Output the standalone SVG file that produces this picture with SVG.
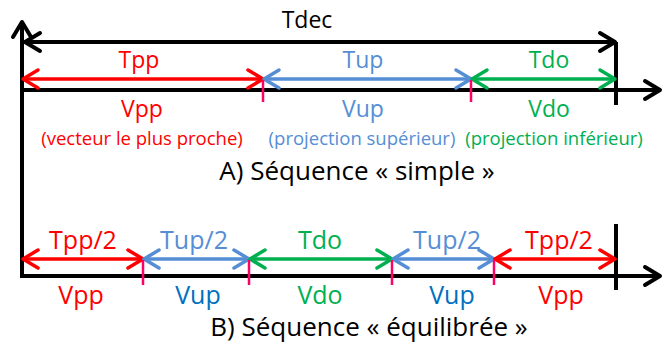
<svg xmlns="http://www.w3.org/2000/svg" width="664" height="344" viewBox="0 0 664 344">
<style>
text{font-family:"Open Sans","Liberation Sans",sans-serif;text-anchor:middle}
.big{font-size:23px}
.bigB{font-size:25px}
.sm{font-size:18.5px}
.ttl{font-size:26px;fill:#000}
.k{stroke:#000;stroke-width:4;fill:none}
.r{stroke:#FF0000;stroke-width:3.5;fill:none}
.b{stroke:#558ED5;stroke-width:3.5;fill:none}
.g{stroke:#00B050;stroke-width:3.5;fill:none}
.tick{stroke:#FF0066;stroke-width:2.5}
</style>
<defs>
<marker id="mk" viewBox="-20 -12 24 24" refX="0" refY="0" markerWidth="24" markerHeight="24" markerUnits="userSpaceOnUse" orient="auto-start-reverse" overflow="visible"><path d="M-15,-9 L0,0 L-15,9" fill="none" stroke="#000" stroke-width="4" stroke-linecap="round" stroke-linejoin="round"/></marker>
<marker id="mr" viewBox="-20 -12 24 24" refX="0" refY="0" markerWidth="24" markerHeight="24" markerUnits="userSpaceOnUse" orient="auto-start-reverse" overflow="visible"><path d="M-15,-9 L0,0 L-15,9" fill="none" stroke="#FF0000" stroke-width="3.5" stroke-linecap="round" stroke-linejoin="round"/></marker>
<marker id="mb" viewBox="-20 -12 24 24" refX="0" refY="0" markerWidth="24" markerHeight="24" markerUnits="userSpaceOnUse" orient="auto-start-reverse" overflow="visible"><path d="M-15,-9 L0,0 L-15,9" fill="none" stroke="#558ED5" stroke-width="3.5" stroke-linecap="round" stroke-linejoin="round"/></marker>
<marker id="mg" viewBox="-20 -12 24 24" refX="0" refY="0" markerWidth="24" markerHeight="24" markerUnits="userSpaceOnUse" orient="auto-start-reverse" overflow="visible"><path d="M-15,-9 L0,0 L-15,9" fill="none" stroke="#00B050" stroke-width="3.5" stroke-linecap="round" stroke-linejoin="round"/></marker>
</defs>
<g id="axes">
<line class="k" x1="22" y1="278" x2="22" y2="22" marker-end="url(#mk)"/>
<line class="k" x1="22" y1="90" x2="660" y2="90" marker-end="url(#mk)"/>
<line class="k" x1="22" y1="276" x2="660" y2="276" marker-end="url(#mk)"/>
<line class="k" x1="616" y1="42" x2="616" y2="105"/>
<line class="k" x1="616" y1="224" x2="616" y2="290"/>
</g>
<g id="connectors">
<line class="k" x1="25" y1="42" x2="615" y2="42" marker-start="url(#mk)" marker-end="url(#mk)"/>
<line class="r" x1="23" y1="79" x2="263" y2="79" marker-start="url(#mr)" marker-end="url(#mr)"/>
<line class="b" x1="264" y1="79" x2="471" y2="79" marker-start="url(#mb)" marker-end="url(#mb)"/>
<line class="g" x1="472" y1="79" x2="615" y2="79" marker-start="url(#mg)" marker-end="url(#mg)"/>
<line class="r" x1="23" y1="259" x2="143" y2="259" marker-start="url(#mr)" marker-end="url(#mr)"/>
<line class="b" x1="144" y1="259" x2="249" y2="259" marker-start="url(#mb)" marker-end="url(#mb)"/>
<line class="g" x1="250" y1="259" x2="392" y2="259" marker-start="url(#mg)" marker-end="url(#mg)"/>
<line class="b" x1="393" y1="259" x2="494" y2="259" marker-start="url(#mb)" marker-end="url(#mb)"/>
<line class="r" x1="495" y1="259" x2="615" y2="259" marker-start="url(#mr)" marker-end="url(#mr)"/>
<line class="tick" x1="263" y1="80" x2="263" y2="102"/>
<line class="tick" x1="471" y1="80" x2="471" y2="102"/>
<line class="tick" x1="143" y1="260" x2="143" y2="285"/>
<line class="tick" x1="249" y1="260" x2="249" y2="285"/>
<line class="tick" x1="392" y1="260" x2="392" y2="285"/>
<line class="tick" x1="494" y1="260" x2="494" y2="285"/>
</g>
<g id="labelsA">
<text class="big" x="307" y="28" fill="#000">Tdec</text>
<text class="big" x="139" y="68" fill="#FF0000">Tpp</text>
<text class="big" x="363" y="68" fill="#558ED5">Tup</text>
<text class="big" x="549" y="68" fill="#00B050">Tdo</text>
<text class="big" x="142" y="117" fill="#FF0000">Vpp</text>
<text class="big" x="363" y="117" fill="#558ED5">Vup</text>
<text class="big" x="549" y="117" fill="#00B050">Vdo</text>
<text class="sm" x="142" y="145" fill="#FF0000">(vecteur le plus proche)</text>
<text class="sm" x="362" y="145" fill="#558ED5">(projection supérieur)</text>
<text class="sm" x="554" y="145" fill="#00B050">(projection inférieur)</text>
<text class="ttl" x="357" y="180">A) Séquence « simple »</text>
</g>
<g id="labelsB">
<text class="bigB" x="83" y="249" fill="#FF0000">Tpp/2</text>
<text class="bigB" x="194" y="249" fill="#558ED5">Tup/2</text>
<text class="bigB" x="320" y="249" fill="#00B050">Tdo</text>
<text class="bigB" x="447" y="249" fill="#558ED5">Tup/2</text>
<text class="bigB" x="559" y="249" fill="#FF0000">Tpp/2</text>
<text class="bigB" x="81" y="304" fill="#FF0000">Vpp</text>
<text class="bigB" x="198" y="304" fill="#0070C0">Vup</text>
<text class="bigB" x="320" y="304" fill="#00B050">Vdo</text>
<text class="bigB" x="452" y="304" fill="#0070C0">Vup</text>
<text class="bigB" x="561" y="304" fill="#FF0000">Vpp</text>
<text class="ttl" x="369" y="336">B) Séquence « équilibrée »</text>
</g>
</svg>
